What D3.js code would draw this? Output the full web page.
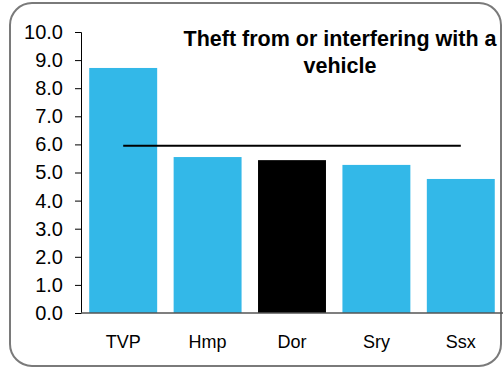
<!DOCTYPE html>
<html><head><meta charset="utf-8">
<script src="https://cdn.jsdelivr.net/npm/d3@7"></script>
<style>html,body{margin:0;padding:0;background:#fff;}svg{display:block;}</style>
</head><body>
<script>
const categories = ["TVP","Hmp","Dor","Sry","Ssx"];
const values = [8.72, 5.55, 5.44, 5.27, 4.77];
const barColors = ["#33b8e8","#33b8e8","#000000","#33b8e8","#33b8e8"];
const averageValue = 5.95;
const yTicks = [0,1,2,3,4,5,6,7,8,9,10];
const titleLines = ["Theft from or interfering with a","vehicle"];

const W = 503, H = 369;
const FONT = "Liberation Sans, Arial, sans-serif";
const svg = d3.select("body").append("svg").attr("width", W).attr("height", H);

svg.append("rect").attr("x", 10).attr("y", 3).attr("width", 491).attr("height", 363)
  .attr("rx", 22).attr("ry", 22).attr("fill", "#fff").attr("stroke", "#7a7a7a").attr("stroke-width", 2);

const x = d3.scaleBand().domain(categories).range([81, 503]).paddingInner(0.195).paddingOuter(0.0975);
const y = d3.scaleLinear().domain([0, 10]).range([313, 32]);

svg.selectAll(".bar").data(categories).enter().append("rect")
  .attr("x", d => x(d)).attr("width", x.bandwidth())
  .attr("y", (d,i) => y(values[i])).attr("height", (d,i) => y(0) - y(values[i]))
  .attr("fill", (d,i) => barColors[i]);

const yAxis = svg.append("g").attr("transform", "translate(81,0)")
  .call(d3.axisLeft(y).tickValues(yTicks).tickFormat(d3.format(".1f")).tickSize(6).tickPadding(12));
yAxis.select(".domain").attr("stroke", "#000").attr("stroke-width", 1);
yAxis.selectAll("line").attr("stroke", "#000");
yAxis.selectAll("text").attr("font-family", FONT).attr("font-size", 20).attr("fill", "#000");

svg.append("line").attr("x1", 81).attr("x2", 503).attr("y1", y(0)).attr("y2", y(0))
  .attr("stroke", "#555").attr("stroke-width", 1.5);

svg.selectAll(".xl").data(categories).enter().append("text")
  .attr("x", d => x(d) + x.bandwidth()/2).attr("y", 348)
  .attr("text-anchor", "middle").attr("font-family", FONT)
  .attr("font-size", 18).attr("fill", "#000").text(d => d);

const first = categories[0], last = categories[categories.length-1];
svg.append("line")
  .attr("x1", x(first) + x.bandwidth()/2).attr("x2", x(last) + x.bandwidth()/2)
  .attr("y1", y(averageValue)).attr("y2", y(averageValue))
  .attr("stroke", "#000").attr("stroke-width", 2);

svg.selectAll(".title").data(titleLines).enter().append("text")
  .attr("x", 340).attr("y", (d,i) => 46 + i*27)
  .attr("text-anchor", "middle").attr("font-family", FONT)
  .attr("font-weight", "bold").attr("font-size", 21.5).attr("fill", "#000").text(d => d);
</script>
</body></html>
